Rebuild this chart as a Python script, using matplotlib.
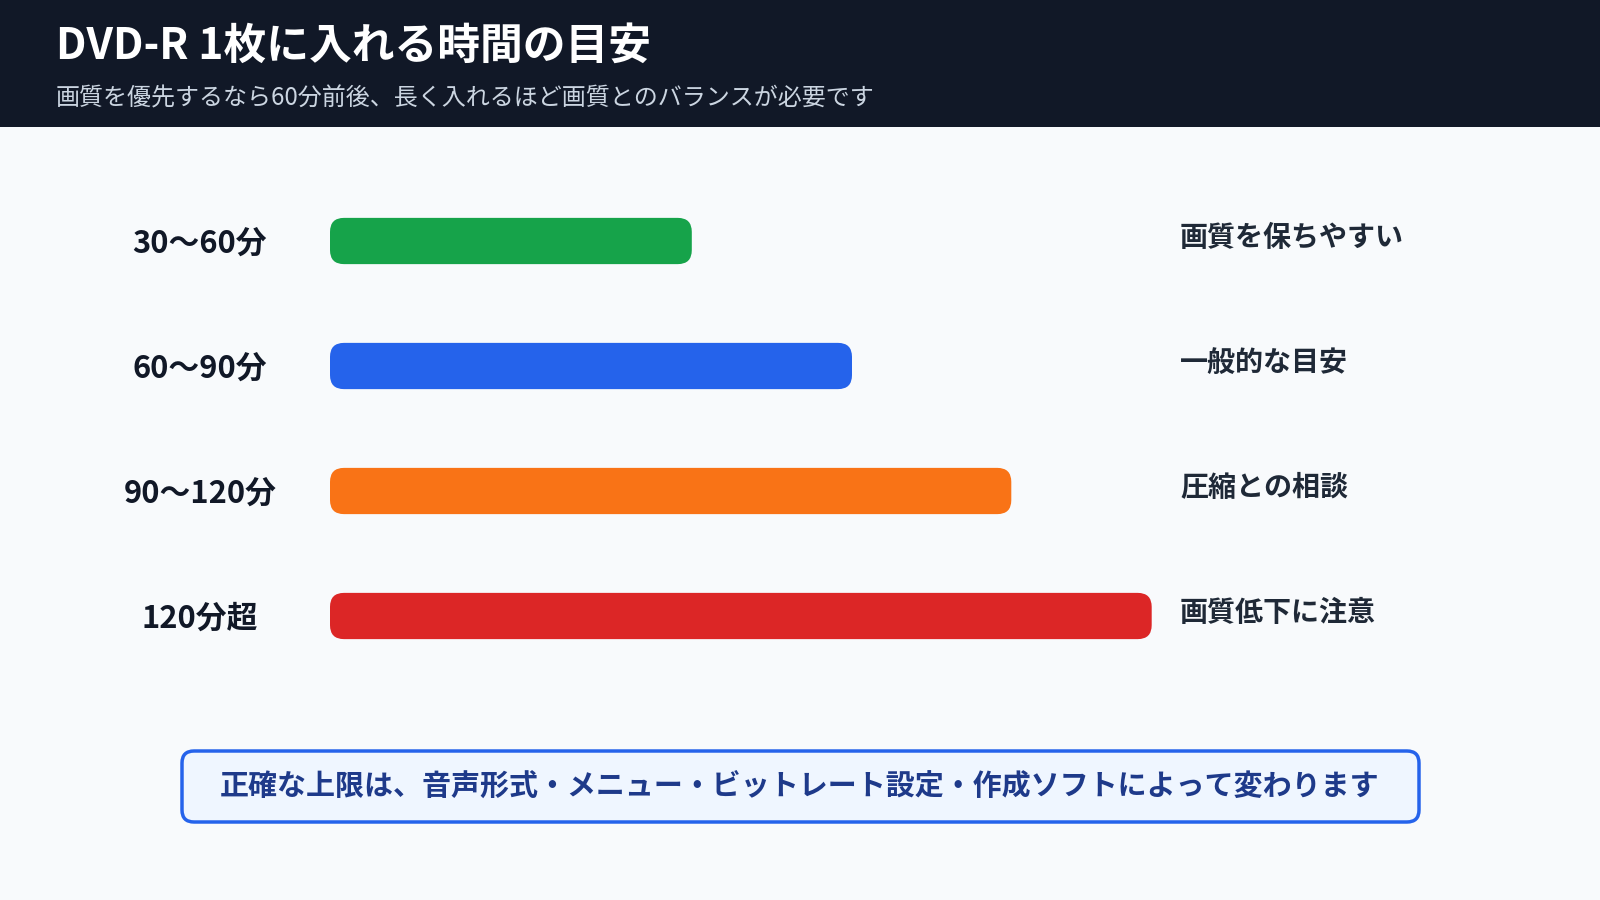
import matplotlib
matplotlib.use("Agg")
import matplotlib.pyplot as plt
from matplotlib.patches import FancyBboxPatch, Rectangle
import matplotlib.transforms as mtransforms

plt.rcParams['font.family'] = ['Noto Sans CJK JP', 'DejaVu Sans']

# data
categories = ['30〜60分', '60〜90分', '90〜120分', '120分超']
lengths = [40.2, 58, 75.7, 91.3]   # relative bar length (0-100 track)
notes = ['画質を保ちやすい', '一般的な目安', '圧縮との相談', '画質低下に注意']
colors = ['#16a34a', '#2563eb', '#f97316', '#dc2626']
title = 'DVD-R 1枚に入れる時間の目安'
subtitle = '画質を優先するなら60分前後、長く入れるほど画質とのバランスが必要です'
footnote = '正確な上限は、音声形式・メニュー・ビットレート設定・作成ソフトによって変わります'

W, H = 1600, 900
fig = plt.figure(figsize=(16, 9), dpi=100, facecolor='#f8fafc')

# overlay axes in pixel coords for header and note box
bg = fig.add_axes([0, 0, 1, 1], zorder=0)
bg.set_xlim(0, W)
bg.set_ylim(H, 0)
bg.axis('off')
bg.add_patch(Rectangle((0, 0), W, 127, color='#111827', lw=0))
bg.text(56, 46, title, color='white', fontsize=30.8, fontweight='bold', va='center', ha='left')
bg.text(56, 98, subtitle, color='#cbd5e1', fontsize=17.3, va='center', ha='left')

box = FancyBboxPatch((182, 751), 1237, 71, boxstyle='round,pad=0,rounding_size=12',
                     fc='#eff6ff', ec='#2563eb', lw=2.5)
bg.add_patch(box)
bg.text(800, 787, footnote, color='#1e3a8a', fontsize=20.9, fontweight='bold', ha='center', va='center')

# bar axes
left_px, width_px = 330, 900
top_px, height_px = 178.5, 500
ax = fig.add_axes([left_px / W, 1 - (top_px + height_px) / H, width_px / W, height_px / H], zorder=1)
ax.patch.set_alpha(0)
ax.set_xlim(0, 100)
ax.set_ylim(len(categories) - 0.5, -0.5)
ax.axis('off')

bar_h = 0.37
bars = ax.barh(range(len(categories)), lengths, height=bar_h, color=colors)
x_per_px = 100 / width_px
y_per_px = len(categories) / height_px
for b, c in zip(bars, colors):
    x, y = b.get_x(), b.get_y()
    w, h = b.get_width(), b.get_height()
    b.remove()
    ax.add_patch(FancyBboxPatch((x, y), w, h,
                                boxstyle='round,pad=0,rounding_size=%f' % (14 * x_per_px),
                                mutation_aspect=y_per_px / x_per_px,
                                fc=c, ec='none'))

trans = mtransforms.blended_transform_factory(fig.transFigure, ax.transData)
for i, (cat, note) in enumerate(zip(categories, notes)):
    ax.text(200 / W, i + 3 * y_per_px, cat, transform=trans, ha='center', va='center',
            fontsize=22.2, fontweight='bold', color='#111827')
    ax.text(1180 / W, i - 3 * y_per_px, note, transform=trans, ha='left', va='center',
            fontsize=20.2, fontweight='bold', color='#1f2937')

fig.savefig('out.png', dpi=100, facecolor=fig.get_facecolor())
